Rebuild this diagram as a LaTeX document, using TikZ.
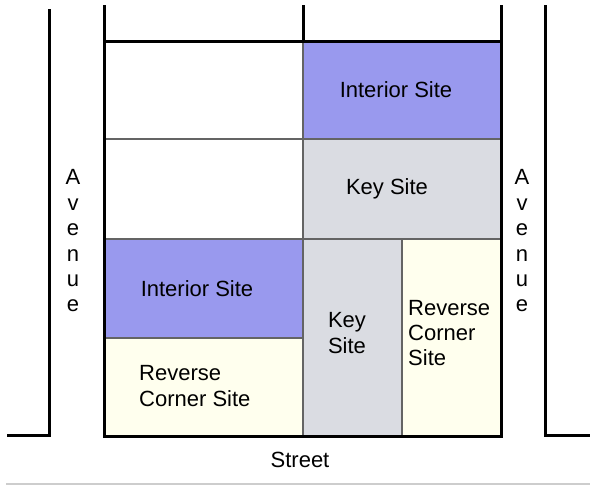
\documentclass[tikz,border=0pt]{standalone}
\usepackage{fontspec}
\setmainfont{Liberation Sans}
\definecolor{interior}{RGB}{153,153,238}
\definecolor{keysite}{RGB}{218,220,226}
\definecolor{reverse}{RGB}{255,255,238}
\definecolor{celledge}{RGB}{100,100,100}
\definecolor{rule}{RGB}{205,205,205}
\begin{document}
\begin{tikzpicture}[x=1pt,y=-1pt,
  cell/.style={draw=celledge, line width=1.5pt},
  road/.style={draw=black, line width=3pt},
  lbl/.style={font=\fontsize{22}{25.4}\selectfont, inner sep=0pt, text=black}]
\useasboundingbox (0,0) rectangle (590,485);
\fill[white] (0,0) rectangle (590,485);
% lots within the block
\draw[cell, fill=white]    (104,41)  rectangle (303,139);
\draw[cell, fill=white]    (104,139) rectangle (303,239);
\draw[cell, fill=interior] (303,41)  rectangle (501,139);
\draw[cell, fill=keysite]  (303,139) rectangle (501,239);
\draw[cell, fill=interior] (104,239) rectangle (303,338);
\draw[cell, fill=reverse]  (104,338) rectangle (303,436);
\draw[cell, fill=keysite]  (303,239) rectangle (402,436);
\draw[cell, fill=reverse]  (402,239) rectangle (501,436);
% block outline and street lines
\draw[road] (104,5) -- (104,436) -- (501,436) -- (501,5);
\draw[road] (104,41) -- (501,41);
\draw[road] (303,5) -- (303,41);
% avenue curbs
\draw[road] (49,9) -- (49,435) -- (7,435);
\draw[road] (545,5) -- (545,435) -- (590,435);
\draw[rule, line width=1.5pt] (6,484) -- (590,484);
% labels
\node[lbl] (intA) at (396,90) {Interior Site};
\node[lbl] (keyA) at (387,189) {Key Site};
\node[lbl] (intB) at (197,289) {Interior Site};
\node[lbl, align=left, anchor=west] (revB) at (139,386) {Reverse\\Corner Site};
\node[lbl, align=center] (keyB) at (347,333) {Key\\Site};
\node[lbl, align=left, anchor=west] (revC) at (408,333) {Reverse\\Corner\\Site};
\node[lbl, align=center] (aveL) at (73,241) {A\\v\\e\\n\\u\\e};
\node[lbl, align=center] (aveR) at (522,241) {A\\v\\e\\n\\u\\e};
\node[lbl, anchor=base] (street) at (300,467) {Street};
\end{tikzpicture}
\end{document}
